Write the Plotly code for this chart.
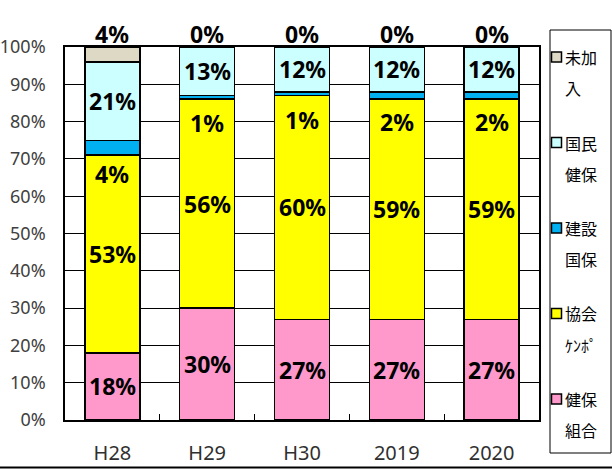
import plotly.graph_objects as go

categories = ["H28", "H29", "H30", "2019", "2020"]
series_names = ["健保組合", "協会ケンポ", "建設国保", "国民健保", "未加入"]
legend_lines = [["健保", "組合"], ["協会", "ｹﾝﾎﾟ"], ["建設", "国保"], ["国民", "健保"], ["未加", "入"]]
kenpo_kumiai = [18, 30, 27, 27, 27]
kyokai_kenpo = [53, 56, 60, 59, 59]
kensetsu_kokuho = [4, 1, 1, 2, 2]
kokumin_kenpo = [21, 13, 12, 12, 12]
mikanyu = [4, 0, 0, 0, 0]
colors = ["#FF99CC", "#FFFF00", "#00B0F0", "#CCFFFF", "#DDD9C4"]

series = [kenpo_kumiai, kyokai_kenpo, kensetsu_kokuho, kokumin_kenpo, mikanyu]

W, H = 612, 470
L, R, T, B = 65, 539, 47, 420


def xp(px):
    return (px - L) / (R - L)


def yp(py):
    return (B - py) / (B - T)


fig = go.Figure()
for name, vals, col in zip(series_names, series, colors):
    fig.add_trace(go.Bar(
        x=categories, y=vals, name=name,
        marker=dict(color=col, line=dict(color="black", width=1.5)),
        width=0.58, showlegend=False,
    ))

label_font = dict(family="Noto Sans", size=23, color="black")
annotations = []
for i, cat in enumerate(categories):
    base = 0
    for k, vals in enumerate(series):
        v = vals[i]
        ann = dict(x=i, text=f"<b>{v}%</b>", showarrow=False,
                   font=label_font, xref="x", yref="y")
        if k == 4:
            ann.update(y=100, yshift=13)
        elif k == 2:
            ann.update(y=base + v / 2 - 7)
        else:
            ann.update(y=base + v / 2)
        annotations.append(ann)
        base += v

# manual legend (top to bottom: reversed order)
shapes = []
shapes.append(dict(type="rect", xref="paper", yref="paper",
                   x0=xp(550), x1=xp(611), y0=yp(453), y1=yp(30),
                   line=dict(color="black", width=1), fillcolor="white", layer="above"))
entry_y = [57, 142.5, 228, 313.5, 399]
for j, k in enumerate(range(4, -1, -1)):
    cy = entry_y[j]
    shapes.append(dict(type="rect", xref="paper", yref="paper",
                       x0=xp(551.5), x1=xp(561.5), y0=yp(cy + 5), y1=yp(cy - 5),
                       line=dict(color="black", width=1.5), fillcolor=colors[k], layer="above"))
    for li, line in enumerate(legend_lines[k]):
        annotations.append(dict(
            x=xp(564), y=yp(cy + li * 31), xref="paper", yref="paper",
            xanchor="left", yanchor="middle", align="left",
            text=line, showarrow=False, borderpad=0,
            font=dict(family="Noto Sans CJK JP", size=16, color="black"),
        ))

# bottom border line
shapes.append(dict(type="line", xref="paper", yref="paper",
                   x0=xp(0), x1=xp(612), y0=yp(467.5), y1=yp(467.5),
                   line=dict(color="black", width=2)))

fig.update_layout(
    width=W, height=H,
    margin=dict(l=L, r=W - R, t=T, b=H - B),
    barmode="stack",
    plot_bgcolor="white", paper_bgcolor="white",
    annotations=annotations, shapes=shapes,
    showlegend=False,
)
fig.update_yaxes(
    range=[0, 100], dtick=10, ticksuffix="%", automargin=False,
    showgrid=True, gridcolor="black", gridwidth=1,
    showline=True, linecolor="black", linewidth=1.5, mirror=True,
    zeroline=False, ticks="",
    tickfont=dict(family="Noto Sans", size=18, color="#404040"),
    ticklabelstandoff=14,
)
fig.update_xaxes(
    type="category", range=[-0.5, 4.5], automargin=False,
    showline=True, linecolor="black", linewidth=1.5, mirror=True,
    ticks="inside", ticklen=6, tickcolor="black", tickson="boundaries",
    tickfont=dict(family="Noto Sans", size=20, color="#303030"),
    ticklabelstandoff=14,
)

fig.write_html(
    "out.html",
    config={"displayModeBar": False},
    post_script="document.body.style.margin='0';document.body.style.overflow='hidden';",
)
